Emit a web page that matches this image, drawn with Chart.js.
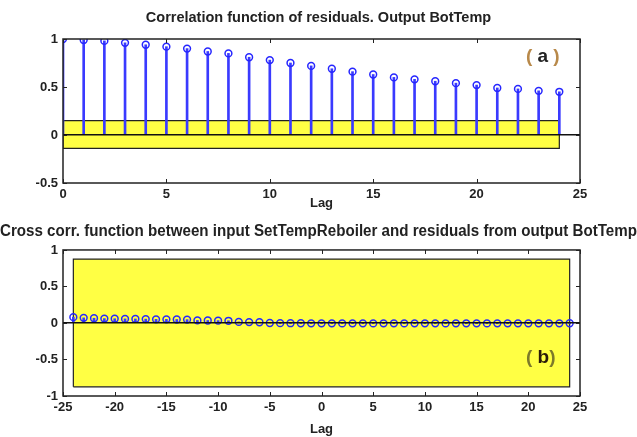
<!DOCTYPE html>
<html lang="en">
<head>
    <meta charset="UTF-8">
    <title>Residual analysis - BotTemp</title>
    <script src="https://cdn.jsdelivr.net/npm/chart.js"></script>
    <style>
        body { margin: 0; background: #fff; }
        #wrap { position: relative; width: 637px; height: 437px; }
        #wrap canvas { position: absolute; left: 0; }
    </style>
</head>
<body>

    <div id="wrap">
        <canvas id="acfChart" width="637" height="215" style="top:0"></canvas>
        <canvas id="ccfChart" width="637" height="222" style="top:215px"></canvas>
    </div>

    <script>
        // (a) autocorrelation of residuals
        var lagsA = [0, 1, 2, 3, 4, 5, 6, 7, 8, 9, 10, 11, 12, 13, 14, 15, 16, 17, 18, 19, 20, 21, 22, 23, 24];
        var acfValues = [1.0, 0.99, 0.98, 0.96, 0.94, 0.92, 0.90, 0.87, 0.85, 0.81, 0.78, 0.75, 0.72, 0.69, 0.66, 0.63, 0.60, 0.58, 0.56, 0.54, 0.52, 0.49, 0.48, 0.46, 0.45];
        var bandLagsA = [0, 24];
        var bandA = [-0.14, 0.15]; // confidence region
        var yTicksA = [-0.5, 0, 0.5, 1];
        var xTicksA = [0, 5, 10, 15, 20, 25];

        // (b) cross correlation input -> residuals
        var lagsB = [-24, -23, -22, -21, -20, -19, -18, -17, -16, -15, -14, -13, -12, -11, -10, -9, -8, -7, -6, -5, -4, -3, -2, -1,
                     0, 1, 2, 3, 4, 5, 6, 7, 8, 9, 10, 11, 12, 13, 14, 15, 16, 17, 18, 19, 20, 21, 22, 23, 24];
        var ccfValues = [0.08, 0.07, 0.065, 0.06, 0.058, 0.056, 0.055, 0.053, 0.05, 0.05, 0.048, 0.046, 0.035, 0.034, 0.032, 0.03, 0.015, 0.012, 0.01, 0.0,
                         -0.002, -0.003, -0.004, -0.005, -0.005, -0.005, -0.006, -0.005, -0.005, -0.006, -0.005, -0.005, -0.006, -0.005, -0.005, -0.005,
                         -0.006, -0.005, -0.005, -0.005, -0.006, -0.005, -0.005, -0.005, -0.005, -0.005, -0.005, -0.005, -0.004];
        var bandLagsB = [-24, 24];
        var bandB = [-0.875, 0.875];
        var yTicksB = [-1, -0.5, 0, 0.5, 1];
        var xTicksB = [-25, -20, -15, -10, -5, 0, 5, 10, 15, 20, 25];

        var FONT = "'Liberation Sans', Arial, sans-serif";
        var INK = '#222';

        function points(xs, ys) {
            return xs.map(function (x, i) { return { x: x, y: ys[i] }; });
        }
        function rectangle(xs, ys) {
            return [
                { x: xs[0], y: ys[0] }, { x: xs[1], y: ys[0] },
                { x: xs[1], y: ys[1] }, { x: xs[0], y: ys[1] },
                { x: xs[0], y: ys[0] }
            ];
        }

        // box around the axes with inward ticks (matlab look) + panel tag
        var boxPlugin = {
            id: 'box',
            afterDraw: function (chart) {
                var c = chart.ctx, a = chart.chartArea;
                var xs = chart.scales.x, ys = chart.scales.y;
                c.save();
                c.strokeStyle = INK;
                c.lineWidth = 1.5;
                c.strokeRect(a.left, a.top, a.right - a.left, a.bottom - a.top);
                c.lineWidth = 1;
                xs.ticks.forEach(function (t) {
                    var px = Math.round(xs.getPixelForValue(t.value)) + 0.5;
                    c.beginPath();
                    c.moveTo(px, a.bottom); c.lineTo(px, a.bottom - 4);
                    c.moveTo(px, a.top); c.lineTo(px, a.top + 4);
                    c.stroke();
                });
                ys.ticks.forEach(function (t) {
                    var py = Math.round(ys.getPixelForValue(t.value)) + 0.5;
                    c.beginPath();
                    c.moveTo(a.left, py); c.lineTo(a.left + 4, py);
                    c.moveTo(a.right, py); c.lineTo(a.right - 4, py);
                    c.stroke();
                });
                var tag = chart.options.plugins.box;
                var tx = xs.getPixelForValue(tag.x), ty = ys.getPixelForValue(tag.y);
                c.font = 'bold 19px ' + FONT;
                c.textBaseline = 'middle';
                c.textAlign = 'left';
                var parts = [['(', tag.parenColor], [tag.gapL + tag.letter + tag.gapR, tag.letterColor], [')', tag.parenColor]];
                var total = parts.reduce(function (s, p) { return s + c.measureText(p[0]).width; }, 0);
                var x = tx - total / 2;
                parts.forEach(function (p) {
                    c.fillStyle = p[1];
                    c.fillText(p[0], x, ty);
                    x += c.measureText(p[0]).width;
                });
                c.restore();
            }
        };

        function makeChart(id, cfg) {
            var ctx = document.getElementById(id).getContext('2d');
            return new Chart(ctx, {
                type: 'bar',
                data: {
                    datasets: [
                        {
                            type: 'line',
                            data: rectangle(cfg.bandLags, cfg.band),
                            borderColor: INK,
                            borderWidth: 1.2,
                            backgroundColor: '#ffff44',
                            fill: 'shape',
                            pointRadius: 0,
                            tension: 0,
                            order: 3
                        },
                        {
                            type: 'bar',
                            data: points(cfg.lags, cfg.values),
                            backgroundColor: '#3a3aff',
                            barThickness: 2,
                            order: 2
                        },
                        {
                            type: 'line',
                            data: points(cfg.lags, cfg.values),
                            showLine: false,
                            pointStyle: 'circle',
                            pointRadius: 3.4,
                            pointBorderWidth: 1.5,
                            pointBorderColor: '#2626ff',
                            pointBackgroundColor: 'rgba(0,0,0,0)',
                            order: 1
                        }
                    ]
                },
                options: {
                    responsive: false,
                    animation: false,
                    layout: { padding: 0 },
                    plugins: {
                        legend: { display: false },
                        tooltip: { enabled: false },
                        title: {
                            display: true,
                            text: cfg.title,
                            color: INK,
                            font: { family: FONT, size: cfg.titleSize, weight: 'bold' },
                            padding: { top: cfg.titleTop, bottom: cfg.titleBottom }
                        },
                        box: cfg.tag
                    },
                    scales: {
                        x: {
                            type: 'linear',
                            offset: false,
                            min: cfg.xTicks[0],
                            max: cfg.xTicks[cfg.xTicks.length - 1],
                            afterBuildTicks: function (s) { s.ticks = cfg.xTicks.map(function (v) { return { value: v }; }); },
                            afterFit: function (s) { s.height = cfg.xHeight; },
                            grid: { display: false, drawTicks: false },
                            border: { display: false },
                            ticks: {
                                color: INK, padding: 4, maxRotation: 0,
                                font: { family: FONT, size: 13, weight: 'bold' },
                                callback: function (v) { return String(v); }
                            },
                            title: {
                                display: true, text: 'Lag', color: INK,
                                font: { family: FONT, size: 13, weight: 'bold' },
                                padding: { top: 0, bottom: cfg.lagBottom }
                            }
                        },
                        y: {
                            min: cfg.yTicks[0],
                            max: cfg.yTicks[cfg.yTicks.length - 1],
                            afterBuildTicks: function (s) { s.ticks = cfg.yTicks.map(function (v) { return { value: v }; }); },
                            afterFit: function (s) { s.width = 63; },
                            border: { display: false },
                            grid: {
                                z: 1,
                                drawTicks: false,
                                lineWidth: 1.5,
                                color: function (c) { return c.tick && c.tick.value === 0 ? '#111' : 'rgba(0,0,0,0)'; }
                            },
                            ticks: {
                                color: INK, padding: 5,
                                font: { family: FONT, size: 13, weight: 'bold' },
                                callback: function (v) { return String(v); }
                            }
                        },
                        // empty right margin so the title centres on the whole figure
                        yRight: {
                            position: 'right',
                            min: cfg.yTicks[0],
                            max: cfg.yTicks[cfg.yTicks.length - 1],
                            afterFit: function (s) { s.width = 57; },
                            grid: { display: false, drawTicks: false },
                            border: { display: false },
                            ticks: { display: false }
                        }
                    }
                },
                plugins: [boxPlugin]
            });
        }

        makeChart('acfChart', {
            lags: lagsA, values: acfValues, bandLags: bandLagsA, band: bandA,
            xTicks: xTicksA, yTicks: yTicksA,
            title: 'Correlation function of residuals. Output BotTemp',
            titleSize: 14.5, titleTop: 9, titleBottom: 12.6,
            xHeight: 32, lagBottom: 4,
            tag: { x: 23.2, y: 0.81, letter: 'a', gapL: ' ', gapR: ' ', parenColor: '#b8894a', letterColor: '#222' }
        });

        makeChart('ccfChart', {
            lags: lagsB, values: ccfValues, bandLags: bandLagsB, band: bandB,
            xTicks: xTicksB, yTicks: yTicksB,
            title: 'Cross corr. function between input SetTempReboiler and residuals from output BotTemp',
            titleSize: 15.8, titleTop: 7.6, titleBottom: 8.4,
            xHeight: 41, lagBottom: 0,
            tag: { x: 21.2, y: -0.47, letter: 'b', gapL: ' ', gapR: '', parenColor: '#7d7a2a', letterColor: '#2a1a0a' }
        });
    </script>

</body>
</html>
